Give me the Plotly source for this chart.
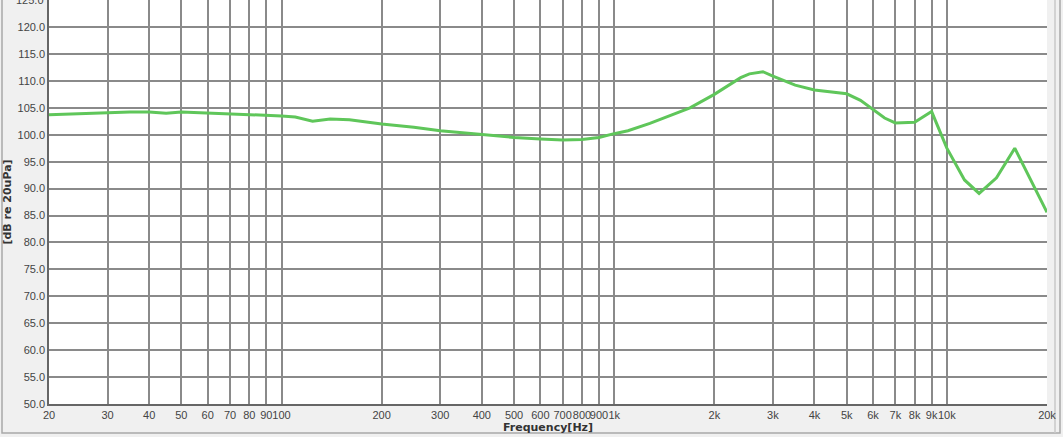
import plotly.graph_objects as go

# frequency response
freq = [20, 25, 30, 35, 40, 45, 50, 60, 70, 80, 90, 100, 110, 124, 140, 160,
        200, 250, 300, 400, 500, 600, 700, 800, 900, 1000, 1100, 1280, 1500,
        1690, 2000, 2400, 2550, 2800, 3000, 3500, 4000, 4500, 5000, 5500,
        6000, 6500, 7000, 8000, 9000, 10000, 11300, 12500, 14100, 16000, 20000]
spl = [103.7, 103.9, 104.1, 104.2, 104.2, 104.0, 104.2, 104.0, 103.95, 103.8,
       103.6, 103.5, 103.3, 102.5, 102.9, 102.8, 102.0, 101.4, 100.75, 100.0,
       99.5, 99.2, 99.0, 99.1, 99.5, 100.2, 100.75, 102.1, 103.7, 105.0, 107.5,
       110.6, 111.3, 111.7, 110.9, 109.2, 108.3, 107.9, 107.6, 106.4, 104.7,
       103.1, 102.2, 102.3, 104.3, 97.5, 91.6, 89.1, 92.0, 97.5, 85.6]

x_ticks = [20, 30, 40, 50, 60, 70, 80, 90, 100, 200, 300, 400, 500, 600, 700,
           800, 900, 1000, 2000, 3000, 4000, 5000, 6000, 7000, 8000, 9000,
           10000, 20000]
x_labels = ["20", "30", "40", "50", "60", "70", "80", "90", "100", "200", "300",
            "400", "500", "600", "700", "800", "900", "1k", "2k", "3k", "4k",
            "5k", "6k", "7k", "8k", "9k", "10k", "20k"]
y_ticks = [50 + 5 * i for i in range(16)]
y_labels = ["%.1f" % v for v in y_ticks]

fig = go.Figure(
    data=go.Scatter(
        x=freq,
        y=spl,
        mode='lines',
        line=dict(color='#5fc65a', width=3),
        hoverinfo='skip'
    )
)

grid = '#8a8a8a'
tick_font = dict(family='Liberation Sans', size=11, color='#444')
fig.update_layout(
    width=1063,
    height=437,
    margin=dict(l=49, r=16, t=0, b=33),
    paper_bgcolor='#f0f0f0',
    plot_bgcolor='white',
    showlegend=False,
    font=dict(family='Liberation Sans', size=11, color='#444'),
    xaxis=dict(
        type='log',
        range=[1.30102, 4.30104],
        tickvals=x_ticks,
        ticktext=x_labels,
        tickangle=0,
        automargin=False,
        showgrid=True,
        gridcolor=grid,
        gridwidth=1.5,
        showline=True,
        linecolor='#666',
        linewidth=1.5,
        zeroline=False,
        ticks='',
        tickfont=tick_font,
        title=dict(text='<b>Frequency[Hz]</b>', standoff=3,
                   font=dict(family='DejaVu Sans', size=11, color='#333')),
    ),
    yaxis=dict(
        range=[50, 125.02],
        tickvals=y_ticks,
        ticktext=y_labels,
        automargin=False,
        showgrid=True,
        gridcolor=grid,
        gridwidth=1.5,
        showline=True,
        linecolor='#666',
        linewidth=1.5,
        zeroline=False,
        ticks='',
        tickfont=tick_font,
        title=dict(text='<b>[dB re 20uPa]</b>', standoff=4,
                   font=dict(family='DejaVu Sans', size=11, color='#333')),
    ),
)

# top label sits half outside the window, as in the screenshot
fig.add_annotation(xref='paper', yref='y', x=0, y=y_ticks[-1],
                   xanchor='right', yanchor='middle', xshift=-3,
                   text=y_labels[-1], showarrow=False, font=tick_font)

# window frame around the chart
def px_x(p):
    return (p - 49) / 998.0

def px_y(p):
    return (404 - p) / 404.0

fig.add_shape(type='rect', xref='paper', yref='paper',
              x0=px_x(2), x1=px_x(1060), y0=px_y(433), y1=px_y(-5),
              line=dict(color='#a8a8a8', width=1.5), layer='below')
fig.add_shape(type='line', xref='paper', yref='paper',
              x0=px_x(1055), x1=px_x(1055), y0=px_y(433), y1=px_y(-5),
              line=dict(color='#c8c8c8', width=1.5), layer='below')

# drop the default page margin so the figure sits at the window's corner
fig.write_html("out.html", config={'displayModeBar': False},
               post_script="document.body.style.margin='0';")
